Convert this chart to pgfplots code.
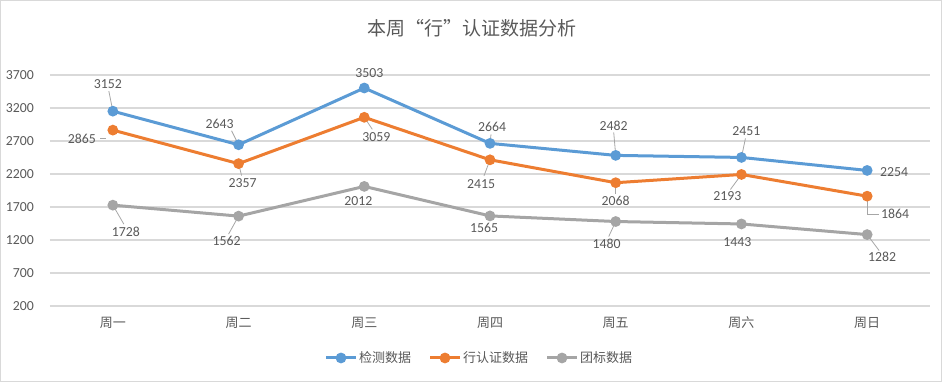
\documentclass[border=0pt]{standalone}
\usepackage{fontspec}
\usepackage{pgfplots}
\usepackage{pgfplotstable}
\pgfplotsset{compat=1.18}
\setmainfont{Carlito}
\newfontfamily\cjk{Noto Sans CJK SC}
\newfontfamily\num{Carlito}
\definecolor{cblue}{HTML}{5B9BD5}
\definecolor{corange}{HTML}{ED7D31}
\definecolor{cgray}{HTML}{A5A5A5}
\definecolor{ctext}{HTML}{595959}
\definecolor{cgrid}{HTML}{D9D9D9}
\definecolor{clead}{HTML}{A6A6A6}

\tikzset{
  lbl/.style={font=\num\fontsize{13.8bp}{13.8bp}\selectfont, text=ctext, inner sep=0pt},
  leader/.style={clead, line width=0.8bp},
}

\pgfplotstableread{
x y
0 3152
1 2643
2 3503
3 2664
4 2482
5 2451
6 2254
}\tblA
\pgfplotstableread{
x y
0 2865
1 2357
2 3059
3 2415
4 2068
5 2193
6 1864
}\tblB
\pgfplotstableread{
x y
0 1728
1 1562
2 2012
3 1565
4 1480
5 1443
6 1282
}\tblC

\newcommand\dl[5]{\node[lbl,xshift=#3bp,yshift=#4bp] at (axis cs:#1,#2) {#5};}
\newcommand\ld[4]{\draw[leader] (axis cs:#1,#2) -- ++(#3bp,#4bp);}

\begin{document}
\begin{tikzpicture}
\useasboundingbox (0,0) rectangle (942bp,382bp);
\draw[cgrid, line width=1.2bp] (0.6bp,0.6bp) rectangle (941.4bp,381.4bp);
\node[text=ctext, font=\cjk\fontsize{19bp}{19bp}\selectfont] at (472bp,354bp) {本周“行”认证数据分析};
\begin{axis}[
  at={(50bp,76bp)}, anchor=south west,
  scale only axis, width=880bp, height=231bp,
  xmin=-0.5, xmax=6.5, ymin=200, ymax=3700,
  ytick={200,700,...,3700},
  xtick={0,...,6},
  xticklabels={周一,周二,周三,周四,周五,周六,周日},
  xticklabel style={font=\cjk\fontsize{13bp}{13bp}\selectfont, text=ctext, anchor=center, inner sep=0pt, yshift=-17bp},
  yticklabel style={font=\num\fontsize{13.8bp}{13.8bp}\selectfont, text=ctext, anchor=east, inner sep=0pt, xshift=-16bp},
  /pgf/number format/assume math mode=true,
  /pgf/number format/1000 sep={},
  major tick length=0pt,
  axis line style={draw=none},
  ymajorgrids, grid style={cgrid, line width=1.2bp},
  clip=false,
  every axis plot/.append style={line width=3bp, mark=*, mark size=3.8bp},
  legend style={draw=none, at={(0.5,-0.225)}, anchor=center, xshift=-11bp, legend columns=3,
    font=\cjk\fontsize{13bp}{13bp}\selectfont, text=ctext,
    nodes={inner sep=1.5bp},
    /tikz/every even column/.append style={column sep=16bp}},
  legend image code/.code={\draw[#1,mark=none] (0bp,0bp) -- (30bp,0bp); \fill[#1] (15bp,0bp) circle (3.8bp);},
]
\addplot[cblue, mark options={fill=cblue}] table {\tblA};
\addlegendentry{检测数据}
\addplot[corange, mark options={fill=corange}] table {\tblB};
\addlegendentry{行认证数据}
\addplot[cgray, mark options={fill=cgray}] table {\tblC};
\addlegendentry{团标数据}

% leader lines
\ld{0}{3152}{-4}{20}
\ld{1}{2643}{-7}{14}
\ld{3}{2664}{1}{9}
\ld{4}{2482}{-2}{23}
\ld{5}{2451}{4}{19}
\draw[leader] (axis cs:0,2865) ++(-7bp,-8bp) -- ++(-6bp,0bp);
\ld{1}{2357}{3}{-12}
\ld{2}{3059}{8}{-12}
\ld{3}{2415}{-6}{-16}
\ld{4}{2068}{0}{-11}
\ld{5}{2193}{-11}{-15}
\draw[leader] (axis cs:6,1864) -- ++(0bp,-18bp) -- ++(12bp,0bp);
\ld{0}{1728}{11}{-19}
\ld{1}{1562}{-10}{-18}
\ld{4}{1480}{-7}{-15}
\ld{6}{1282}{12}{-16}

% data labels
\dl{0}{3152}{-5}{27}{3152}
\dl{1}{2643}{-19}{21}{2643}
\dl{2}{3503}{5}{15}{3503}
\dl{3}{2664}{2}{16}{2664}
\dl{4}{2482}{-2}{30}{2482}
\dl{5}{2451}{5}{26}{2451}
\dl{6}{2254}{27}{-2}{2254}
\dl{0}{2865}{-31}{-9}{2865}
\dl{1}{2357}{4}{-19}{2357}
\dl{2}{3059}{12}{-20}{3059}
\dl{3}{2415}{-9}{-24}{2415}
\dl{4}{2068}{0}{-18}{2068}
\dl{5}{2193}{-14}{-22}{2193}
\dl{6}{1864}{28}{-18}{1864}
\dl{0}{1728}{13}{-27}{1728}
\dl{1}{1562}{-12}{-25}{1562}
\dl{2}{2012}{-6}{-15}{2012}
\dl{3}{1565}{-6}{-12}{1565}
\dl{4}{1480}{-9}{-22}{1480}
\dl{5}{1443}{-4}{-18}{1443}
\dl{6}{1282}{15}{-22}{1282}
\end{axis}
\end{tikzpicture}
\end{document}
